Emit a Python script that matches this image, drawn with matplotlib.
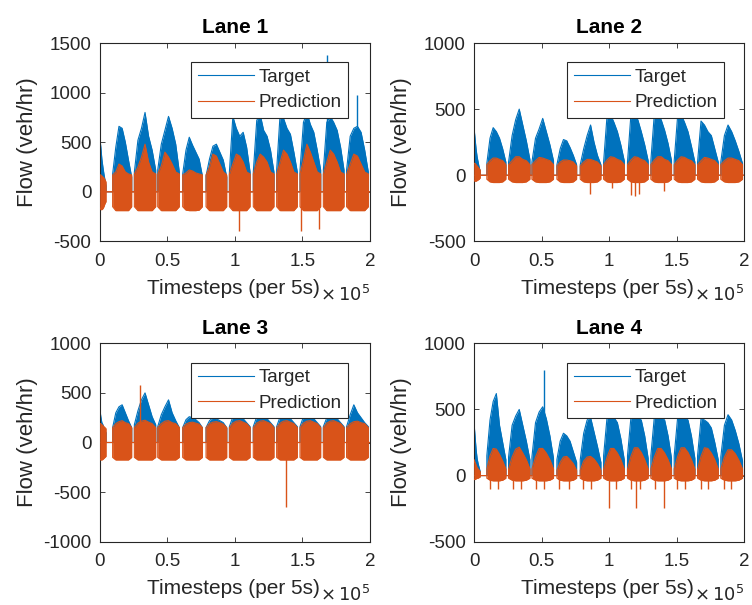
import numpy as np
import matplotlib
matplotlib.use("Agg")
import matplotlib.pyplot as plt
from matplotlib.ticker import FixedLocator, FixedFormatter

plt.rcParams['font.family'] = ['Liberation Sans', 'DejaVu Sans']
plt.rcParams['axes.unicode_minus'] = False

# ---------------- data ----------------
# active (daytime) periods, in timesteps
day_start = [0, 9500, 25600, 42900, 61400, 78700, 96000, 113700, 131000, 148300, 165600, 182800]
day_end = [4600, 23600, 41400, 58900, 76000, 94000, 111300, 129000, 146300, 163600, 180900, 198900]

# Lane 1 (envelope values sampled across each active period, veh/hr)
lane1_target = [
    [550, 450, 330, 250, 180, 120, 60],
    [180, 450, 660, 640, 500, 320, 150],
    [200, 520, 640, 800, 560, 420, 220],
    [220, 480, 620, 760, 640, 480, 200],
    [180, 420, 550, 470, 400, 330, 160],
    [160, 330, 460, 480, 400, 320, 150],
    [200, 760, 640, 560, 600, 450, 200],
    [200, 720, 780, 620, 560, 420, 200],
    [220, 780, 740, 640, 580, 400, 200],
    [220, 700, 800, 680, 600, 420, 220],
    [220, 700, 760, 700, 620, 450, 220],
    [220, 560, 640, 660, 600, 420, 200],
]
lane1_pred_top = [
    [170, 170, 160, 150, 140, 120, 100],
    [170, 200, 280, 260, 200, 180, 170],
    [180, 250, 350, 480, 300, 200, 180],
    [180, 260, 400, 350, 280, 200, 180],
    [170, 190, 220, 210, 190, 180, 170],
    [170, 250, 380, 360, 280, 200, 170],
    [180, 280, 380, 360, 300, 200, 180],
    [180, 300, 380, 350, 300, 200, 180],
    [180, 300, 420, 380, 300, 200, 180],
    [180, 320, 480, 400, 300, 200, 180],
    [180, 300, 420, 380, 300, 200, 180],
    [180, 280, 380, 360, 280, 200, 180],
]
lane1_pred_bottom = [
    [-150, -180, -180, -170, -150, -120, -100],
    [-150, -190, -190, -190, -190, -190, -150],
    [-150, -190, -190, -190, -190, -190, -150],
    [-150, -190, -190, -190, -190, -190, -150],
    [-150, -185, -190, -190, -190, -185, -150],
    [-150, -190, -190, -190, -190, -190, -150],
    [-150, -190, -190, -190, -190, -190, -150],
    [-150, -190, -190, -190, -190, -190, -150],
    [-150, -190, -190, -190, -190, -190, -150],
    [-150, -190, -190, -190, -190, -190, -150],
    [-150, -190, -190, -190, -190, -190, -150],
    [-150, -190, -190, -190, -190, -190, -150],
]
lane1_target_spike_x = [168000, 190300]
lane1_target_spike_y = [1380, 980]
lane1_pred_spike_x = [103000, 149000, 162000]
lane1_pred_spike_y = [-400, -400, -370]

# Lane 2
lane2_target = [
    [360, 280, 200, 140, 100, 60, 30],
    [90, 280, 360, 330, 280, 200, 100],
    [100, 300, 420, 500, 380, 260, 120],
    [100, 280, 350, 430, 330, 230, 110],
    [80, 200, 270, 260, 210, 150, 80],
    [80, 200, 300, 380, 250, 150, 80],
    [100, 450, 460, 400, 330, 230, 110],
    [100, 460, 460, 420, 330, 230, 110],
    [110, 460, 460, 420, 340, 240, 110],
    [110, 450, 460, 400, 330, 220, 100],
    [100, 410, 380, 330, 300, 200, 100],
    [100, 300, 380, 330, 260, 180, 90],
]
lane2_pred_top = [
    [90, 90, 80, 70, 60, 50, 40],
    [80, 110, 130, 130, 120, 110, 80],
    [80, 110, 140, 140, 120, 110, 80],
    [80, 110, 135, 130, 120, 110, 80],
    [70, 100, 115, 115, 110, 100, 70],
    [70, 100, 120, 120, 110, 100, 70],
    [80, 115, 140, 135, 120, 110, 80],
    [80, 115, 140, 135, 120, 110, 80],
    [80, 115, 140, 140, 120, 110, 80],
    [80, 115, 140, 135, 120, 110, 80],
    [80, 110, 135, 130, 120, 110, 80],
    [80, 110, 130, 130, 120, 110, 80],
]
lane2_pred_bottom = [
    [-40, -45, -45, -40, -35, -30, -20],
    [-30, -50, -55, -55, -55, -50, -30],
    [-30, -50, -55, -55, -55, -50, -30],
    [-30, -50, -55, -55, -55, -50, -30],
    [-30, -50, -55, -55, -55, -50, -30],
    [-30, -50, -55, -55, -55, -50, -30],
    [-30, -50, -55, -55, -55, -50, -30],
    [-30, -50, -55, -55, -55, -50, -30],
    [-30, -50, -55, -55, -55, -50, -30],
    [-30, -50, -55, -55, -55, -50, -30],
    [-30, -50, -55, -55, -55, -50, -30],
    [-30, -50, -55, -55, -55, -50, -30],
]
lane2_pred_spike_x = [86000, 102000, 116000, 119000, 122000, 141000]
lane2_pred_spike_y = [-145, -100, -150, -155, -145, -120]

# Lane 3
lane3_target = [
    [340, 260, 200, 180, 150, 120, 100],
    [150, 300, 360, 380, 300, 220, 150],
    [180, 320, 430, 500, 380, 260, 180],
    [160, 280, 360, 430, 300, 220, 150],
    [150, 230, 260, 250, 230, 200, 150],
    [150, 220, 250, 240, 220, 200, 150],
    [160, 260, 260, 260, 240, 200, 160],
    [160, 260, 260, 260, 240, 200, 160],
    [160, 260, 260, 260, 240, 200, 160],
    [160, 260, 260, 260, 240, 200, 160],
    [160, 250, 250, 250, 240, 200, 160],
    [160, 280, 380, 300, 250, 200, 160],
]
lane3_pred_top = [
    [190, 190, 180, 170, 160, 150, 140],
    [150, 190, 210, 220, 200, 190, 150],
    [150, 195, 215, 225, 205, 190, 150],
    [150, 190, 215, 220, 200, 190, 150],
    [150, 185, 200, 205, 195, 185, 150],
    [150, 190, 205, 210, 200, 185, 150],
    [150, 195, 215, 220, 205, 190, 150],
    [150, 195, 215, 220, 205, 190, 150],
    [150, 195, 215, 220, 205, 190, 150],
    [150, 195, 215, 220, 205, 190, 150],
    [150, 195, 215, 220, 205, 190, 150],
    [150, 190, 210, 215, 200, 190, 150],
]
lane3_pred_bottom = [
    [-170, -176, -176, -170, -160, -150, -140],
    [-150, -176, -176, -176, -176, -176, -150],
    [-150, -176, -176, -176, -176, -176, -150],
    [-150, -176, -176, -176, -176, -176, -150],
    [-150, -176, -176, -176, -176, -176, -150],
    [-150, -176, -176, -176, -176, -176, -150],
    [-150, -176, -176, -176, -176, -176, -150],
    [-150, -176, -176, -176, -176, -176, -150],
    [-150, -176, -176, -176, -176, -176, -150],
    [-150, -176, -176, -176, -176, -176, -150],
    [-150, -176, -176, -176, -176, -176, -150],
    [-150, -176, -176, -176, -176, -176, -150],
]
lane3_pred_spike_x = [29800, 138000]
lane3_pred_spike_y = [580, -647]

# Lane 4
lane4_target = [
    [400, 300, 200, 130, 90, 60, 30],
    [150, 420, 560, 620, 380, 250, 120],
    [140, 380, 450, 500, 380, 260, 120],
    [140, 400, 480, 520, 430, 300, 130],
    [120, 260, 320, 300, 260, 180, 100],
    [120, 320, 420, 440, 330, 220, 100],
    [150, 440, 440, 440, 400, 280, 120],
    [150, 440, 440, 440, 420, 300, 130],
    [150, 440, 440, 440, 420, 300, 130],
    [150, 440, 440, 440, 420, 300, 130],
    [150, 430, 420, 400, 360, 250, 120],
    [140, 380, 460, 420, 340, 240, 110],
]
lane4_pred_top = [
    [120, 100, 80, 60, 50, 40, 30],
    [50, 150, 205, 200, 160, 110, 50],
    [50, 140, 200, 215, 170, 120, 50],
    [50, 140, 205, 205, 170, 120, 50],
    [40, 100, 140, 145, 120, 90, 40],
    [40, 110, 140, 145, 125, 90, 40],
    [50, 140, 205, 205, 170, 120, 50],
    [50, 145, 210, 210, 175, 120, 50],
    [50, 140, 205, 205, 170, 120, 50],
    [50, 145, 210, 210, 175, 120, 50],
    [50, 145, 210, 205, 170, 120, 50],
    [50, 140, 195, 195, 165, 115, 50],
]
lane4_pred_bottom = [
    [-30, -30, -25, -20, -20, -15, -10],
    [-20, -35, -40, -40, -40, -35, -20],
    [-20, -35, -40, -40, -40, -35, -20],
    [-20, -35, -40, -40, -40, -35, -20],
    [-20, -35, -40, -40, -40, -35, -20],
    [-20, -35, -40, -40, -40, -35, -20],
    [-20, -35, -40, -40, -40, -35, -20],
    [-20, -35, -40, -40, -40, -35, -20],
    [-20, -35, -40, -40, -40, -35, -20],
    [-20, -35, -40, -40, -40, -35, -20],
    [-20, -35, -40, -40, -40, -35, -20],
    [-20, -35, -40, -40, -40, -35, -20],
]
lane4_target_spike_x = [51500]
lane4_target_spike_y = [800]
lane4_pred_spike_x = [12000, 18000, 29000, 35000, 46000, 52000, 63000, 70000, 81000,
                      87000, 100000, 105000, 116000, 120000, 123000, 134000, 141000,
                      150000, 156000, 168000, 173000, 185000, 190000]
lane4_pred_spike_y = [-105, -105, -105, -105, -105, -105, -100, -100, -105,
                      -105, -248, -105, -105, -248, -105, -105, -248,
                      -105, -105, -105, -105, -105, -105]

x_ticks = [0, 50000, 100000, 150000, 200000]
x_tick_labels = ['0', '0.5', '1', '1.5', '2']
titles = ['Lane 1', 'Lane 2', 'Lane 3', 'Lane 4']
y_limits = [(-500, 1500), (-500, 1000), (-1000, 1000), (-500, 1000)]
y_ticks = [[-500, 0, 500, 1000, 1500], [-500, 0, 500, 1000],
           [-1000, -500, 0, 500, 1000], [-500, 0, 500, 1000]]

lanes = [
    dict(target=lane1_target, top=lane1_pred_top, bottom=lane1_pred_bottom,
         tsx=lane1_target_spike_x, tsy=lane1_target_spike_y,
         psx=lane1_pred_spike_x, psy=lane1_pred_spike_y),
    dict(target=lane2_target, top=lane2_pred_top, bottom=lane2_pred_bottom,
         tsx=[], tsy=[], psx=lane2_pred_spike_x, psy=lane2_pred_spike_y),
    dict(target=lane3_target, top=lane3_pred_top, bottom=lane3_pred_bottom,
         tsx=[], tsy=[], psx=lane3_pred_spike_x, psy=lane3_pred_spike_y),
    dict(target=lane4_target, top=lane4_pred_top, bottom=lane4_pred_bottom,
         tsx=lane4_target_spike_x, tsy=lane4_target_spike_y,
         psx=lane4_pred_spike_x, psy=lane4_pred_spike_y),
]

C_T = '#0072BD'
C_P = '#D95319'
TXT = '#262626'


def build(vals_per_day):
    xs, ys = [], []
    for s, e, v in zip(day_start, day_end, vals_per_day):
        pts = np.linspace(s, e, len(v))
        xs += [s] + list(pts) + [e]
        ys += [0] + list(v) + [0]
    xs = [0] + xs + [200000]
    ys = [0] + ys + [0]
    return np.array(xs, float), np.array(ys, float)


fig = plt.figure(figsize=(7.52, 6.05), dpi=100)
W, H = 752.0, 605.0
boxes = [(99.8, 43.0), (474.0, 43.0), (99.8, 343.3), (474.0, 343.3)]
leg_x = [0.920, 0.927, 0.920, 0.927]

for i, d in enumerate(lanes):
    left, top = boxes[i]
    ax = fig.add_axes([left / W, (H - top - 198.4) / H, 270 / W, 198.4 / H])
    xt, yt = build(d['target'])
    xp, ytop = build(d['top'])
    _, ybot = build(d['bottom'])

    ax.fill_between(xt, 0, yt, color=C_T, lw=0, zorder=2)
    lt, = ax.plot(xt, yt, color=C_T, lw=0.8, zorder=2, label='Target')
    if d['tsx']:
        ax.vlines(d['tsx'], 0, d['tsy'], color=C_T, lw=1.0, zorder=2)
    ax.fill_between(xp, ybot, ytop, color=C_P, lw=0, zorder=3)
    lp, = ax.plot(xp, ytop, color=C_P, lw=0.8, zorder=3, label='Prediction')
    ax.plot(xp, ybot, color=C_P, lw=0.8, zorder=3)
    if d['psx']:
        ax.vlines(d['psx'], 0, d['psy'], color=C_P, lw=1.0, zorder=3)

    ax.set_xlim(0, 200000)
    ax.set_ylim(*y_limits[i])
    ax.xaxis.set_major_locator(FixedLocator(x_ticks))
    ax.xaxis.set_major_formatter(FixedFormatter(x_tick_labels))
    ax.set_yticks(y_ticks[i])
    ax.set_yticklabels([str(v) for v in y_ticks[i]])
    ax.tick_params(direction='in', top=True, right=True, length=3.5, width=0.6,
                   colors=TXT, labelsize=13.5)
    ax.tick_params(axis='x', pad=8)
    ax.tick_params(axis='y', pad=6)
    for sp in ax.spines.values():
        sp.set_color(TXT)
        sp.set_linewidth(0.8)

    ax.set_title(titles[i], fontsize=15, fontweight='bold', color='black', pad=7)
    ax.set_xlabel('Timesteps (per 5s)', fontsize=15, color=TXT)
    ax.xaxis.set_label_coords(0.495, -0.19)
    ax.set_ylabel('Flow (veh/hr)', fontsize=16, color=TXT)
    ax.yaxis.set_label_coords(-0.228, 0.5)
    ax.text(0.815, -0.30, r'$\times\,10^{5}$', transform=ax.transAxes, ha='left',
            va='baseline', fontsize=13, color=TXT)

    leg = ax.legend(handles=[lt, lp], loc='upper right',
                    bbox_to_anchor=(leg_x[i], 0.903), borderaxespad=0,
                    fontsize=13.5, handlelength=3.0, handletextpad=0.25,
                    labelspacing=0.45, borderpad=0.35, fancybox=False,
                    framealpha=1, edgecolor=TXT)
    leg.get_frame().set_linewidth(0.8)
    leg.set_zorder(10)
    for t in leg.get_texts():
        t.set_color(TXT)

fig.savefig('out.png', dpi=100)
